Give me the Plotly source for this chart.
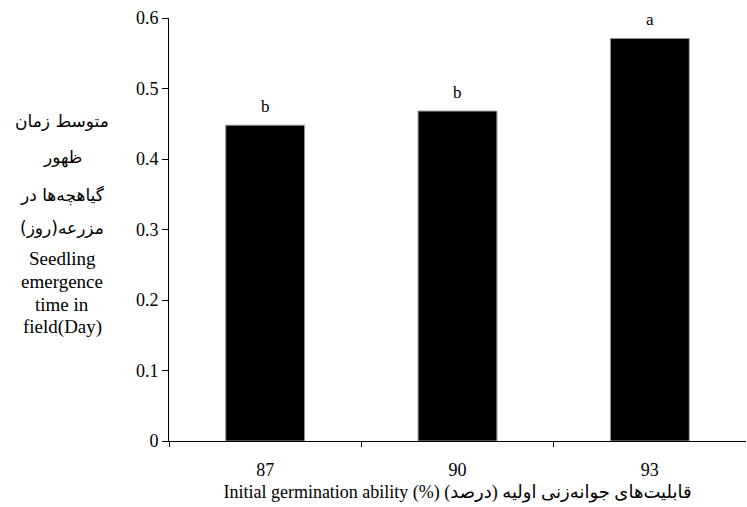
import plotly.graph_objects as go

categories = ["87", "90", "93"]
values = [0.448, 0.468, 0.571]
letters = ["b", "b", "a"]
y_ticks = [0, 0.1, 0.2, 0.3, 0.4, 0.5, 0.6]
y_tick_labels = ["0", "0.1", "0.2", "0.3", "0.4", "0.5", "0.6"]
y_title_lines = ["متوسط زمان", "ظهور", "گیاهچه‌ها در", "مزرعه(روز)",
                 "Seedling", "emergence", "time in", "field(Day)"]
y_title_y = [121, 157, 195, 228, 258, 281, 304, 327]
x_title = "Initial germination ability (%) قابلیت‌های جوانه‌زنی اولیه (درصد)"

W, H = 747, 507
serif = "Liberation Serif, Times New Roman, DejaVu Sans, serif"

n = len(categories)
xpos = list(range(n))

fig = go.Figure()
fig.add_trace(go.Bar(
    x=xpos, y=values,
    marker=dict(color="black", line=dict(color="#999999", width=1)),
    hoverinfo="skip",
))

annotations = []
for i, v, t in zip(xpos, values, letters):
    annotations.append(dict(x=i, y=v, text=t, showarrow=False, xref="x", yref="y",
                            yanchor="bottom", yshift=7,
                            font=dict(family=serif, size=17, color="black")))

ml, mr, mt, mb = 169, 1, 18, 66
pw, ph = W - ml - mr, H - mt - mb
for line, yy in zip(y_title_lines, y_title_y):
    is_latin = line[0].isascii()
    annotations.append(dict(x=(62 - ml) / pw, y=(H - yy - mb) / ph,
                            xref="paper", yref="paper", text=line,
                            showarrow=False, xanchor="center", yanchor="middle",
                            font=dict(family=serif if is_latin else "DejaVu Sans, sans-serif",
                                      size=19 if is_latin else 17, color="black")))

boundary_ticks = [i - 0.5 for i in xpos]  # left end + between categories

fig.update_layout(
    width=W, height=H,
    margin=dict(l=ml, r=mr, t=mt, b=mb),
    paper_bgcolor="white", plot_bgcolor="white",
    bargap=0.59,
    showlegend=False,
    annotations=annotations,
    font=dict(family=serif, size=18, color="black"),
    xaxis=dict(
        type="linear",
        range=[-0.5, n - 0.5], autorange=False,
        tickvals=xpos, ticktext=categories,
        showline=True, linecolor="black", linewidth=1,
        ticks="", ticklabelstandoff=12, tickangle=0,
        tickfont=dict(family=serif, size=18, color="black"),
        minor=dict(tickvals=boundary_ticks, ticks="outside", ticklen=5,
                   tickcolor="black", showgrid=False),
        title=dict(text=x_title, standoff=6,
                   font=dict(family=serif, size=18, color="black")),
        showgrid=False, zeroline=False, fixedrange=True,
    ),
    yaxis=dict(
        range=[0, 0.6], autorange=False,
        tickvals=y_ticks, ticktext=y_tick_labels,
        showline=True, linecolor="black", linewidth=1,
        ticks="outside", ticklen=6, tickcolor="black",
        tickfont=dict(family=serif, size=18, color="black"),
        showgrid=False, zeroline=False, fixedrange=True,
    ),
)

fig.write_html("out.html", config={"displayModeBar": False})
